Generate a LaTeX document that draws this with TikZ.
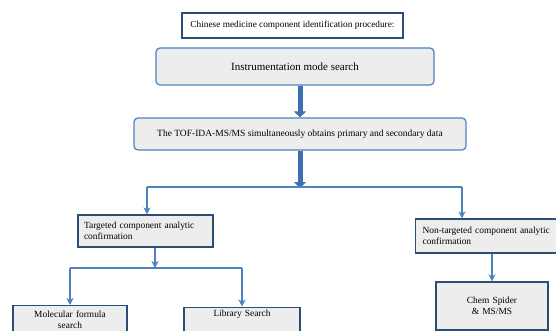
\documentclass[tikz,border=0pt]{standalone}
\usepackage{fontspec}
\setmainfont{Liberation Serif}
\usetikzlibrary{arrows.meta,positioning}
\definecolor{boxblue}{HTML}{4F81BD}
\definecolor{boxnavy}{HTML}{2C4D75}
\definecolor{boxfill}{HTML}{EDEDED}
\definecolor{arrowblue}{HTML}{3E6FB0}

\begin{document}
\begin{tikzpicture}[
    x=1pt, y=-1pt,
    roundbox/.style={draw=boxblue, line width=1.2pt, fill=boxfill, rounded corners=4pt, font=\fontsize{9.5}{11}\selectfont},
    plainbox/.style={draw=boxnavy, line width=1.2pt, fill=boxfill, font=\fontsize{9.4}{11}\selectfont},
    bigarrow/.style={arrowblue, line width=5pt, -{Triangle[width=12pt,length=6pt]}},
    thinarrow/.style={boxblue, line width=1.3pt, -{Stealth[length=7pt,width=7pt,inset=2pt]}},
    thinline/.style={boxblue, line width=1.3pt}]
\useasboundingbox (0,0) rectangle (556,331);
\clip (0,0) rectangle (556,331);

% top rows
\node[plainbox, fill=white, minimum width=221pt, minimum height=25pt, font=\fontsize{9.3}{11}\selectfont] (title) at (292.5,25.5) {Chinese medicine component identification procedure:};
\node[roundbox, minimum width=278pt, minimum height=37pt, font=\fontsize{11}{12}\selectfont] (instr) at (295,66.5) {Instrumentation mode search};
\node[roundbox, minimum width=332pt, minimum height=32pt] (tof) at (300,134) {The TOF-IDA-MS/MS simultaneously obtains primary and secondary data};

% branches
\node[plainbox, minimum width=135pt, minimum height=32pt, text width=123pt, inner xsep=6pt, align=left] (targ) at (145.5,231) {Targeted component analytic\\confirmation};
\node[plainbox, anchor=west, minimum height=34pt, text width=170pt, inner xsep=7pt, align=left] (nontarg) at (415,236) {Non-targeted component analytic\\confirmation};

% bottom boxes
\node[plainbox, anchor=north, minimum width=114pt, text width=100pt, align=center, inner ysep=5pt, text depth=35pt] (molform) at (70,305) {Molecular formula\\search};
\node[plainbox, anchor=north, minimum width=116pt, text width=100pt, align=center, inner ysep=3pt, text depth=35pt] (libsearch) at (242,306.5) {Library Search};
\node[plainbox, minimum width=112pt, minimum height=48pt, text width=100pt, align=center] (chem) at (492,306) {Chem Spider\\\& MS/MS};

\coordinate (split) at (300,187);
\coordinate (ljoin) at (147,187);
\coordinate (rjoin) at (462,187);
\coordinate (tsplit) at (155,268);

\draw[bigarrow] (instr.south -| tof.north) -- (tof.north);
\draw[bigarrow] (tof.south) -- ([yshift=-1pt]split);
\draw[thinline] (ljoin) -- (rjoin);
\draw[thinarrow] (ljoin) -- (ljoin |- targ.north);
\draw[thinarrow] (rjoin) -- (rjoin |- nontarg.north);
\draw[thinarrow] (targ.south -| tsplit) -- (tsplit);
\draw[thinline] (molform.north |- tsplit) -- (libsearch.north |- tsplit);
\draw[thinarrow] (molform.north |- tsplit) -- (molform.north);
\draw[thinarrow] (libsearch.north |- tsplit) -- (libsearch.north);
\draw[thinarrow] (nontarg.south -| chem.north) -- (chem.north);

\end{tikzpicture}
\end{document}
